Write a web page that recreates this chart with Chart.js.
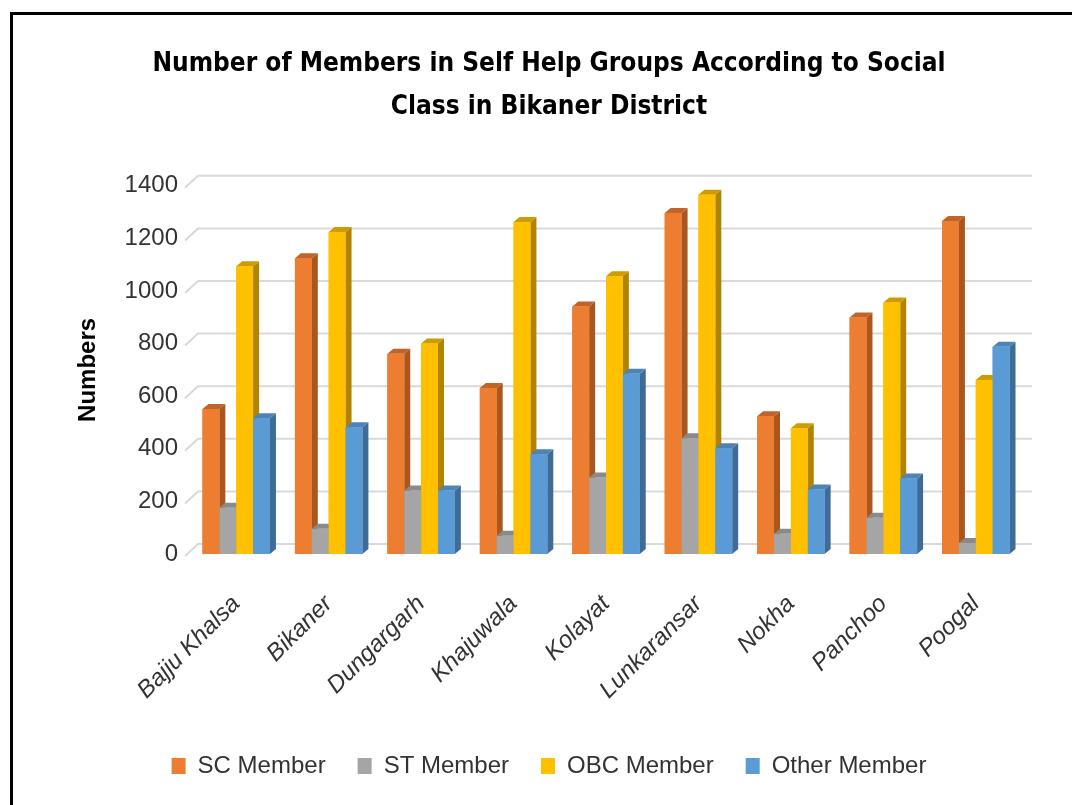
<!DOCTYPE html>
<html>
<head>
<meta charset="utf-8">
<title>SHG members by social class - Bikaner</title>
<script src="https://cdn.jsdelivr.net/npm/chart.js@4.4.0/dist/chart.umd.min.js"></script>
<style>
  html, body { margin: 0; padding: 0; background: #fff; }
  #wrap { position: relative; width: 1072px; height: 805px; }
</style>
</head>
<body>
<div id="wrap"><canvas id="shg-chart"></canvas></div>
<script>
const blocks = ['Bajju Khalsa', 'Bikaner', 'Dungargarh', 'Khajuwala', 'Kolayat', 'Lunkaransar', 'Nokha', 'Panchoo', 'Poogal'];
const scMembers = [551, 1125, 761, 631, 941, 1297, 524, 899, 1266];
const stMembers = [176, 96, 241, 69, 291, 440, 77, 138, 42];
const obcMembers = [1094, 1224, 800, 1262, 1056, 1366, 478, 956, 662];
const otherMembers = [516, 482, 241, 379, 685, 402, 245, 287, 788];
const yTicks = [0, 200, 400, 600, 800, 1000, 1200, 1400];

// front / side / top shades for the pseudo-3D columns
const shades = [
  { front: '#ED7D31', side: '#A9561F', top: '#C2632A' },
  { front: '#A5A5A5', side: '#767676', top: '#8A8A8A' },
  { front: '#FFC000', side: '#B08400', top: '#CC9C00' },
  { front: '#5B9BD5', side: '#3F6C96', top: '#4D83B5' },
];
const DX = 6, DY = 5;

const bar3d = {
  id: 'bar3d',
  beforeDraw(chart) {
    const ctx = chart.ctx;
    ctx.save();
    ctx.strokeStyle = '#000';
    ctx.lineWidth = 3;
    ctx.strokeRect(11.5, 13.5, 2000, 2000);
    ctx.restore();
  },
  beforeDatasetsDraw(chart) {
    const { ctx, chartArea, scales } = chart;
    const y = scales.y;
    ctx.save();
    ctx.strokeStyle = '#D9D9D9';
    ctx.lineWidth = 2;
    y.ticks.forEach(t => {
      const py = y.getPixelForValue(t.value);
      ctx.beginPath();
      ctx.moveTo(chartArea.left - 5, py + 2);
      ctx.lineTo(chartArea.left + 8, py - 10);
      ctx.lineTo(chartArea.right + 10, py - 10);
      ctx.stroke();
    });
    ctx.restore();
  },
  afterDatasetsDraw(chart) {
    const ctx = chart.ctx;
    const metas = chart.data.datasets.map((d, i) => chart.getDatasetMeta(i));
    ctx.save();
    // redraw per category, left to right, so each column hides the side of the one before it
    for (let j = 0; j < blocks.length; j++) {
      metas.forEach((meta, i) => {
        const bar = meta.data[j];
        if (!bar) return;
        const { x, y, base, width } = bar.getProps(['x', 'y', 'base', 'width'], true);
        const l = x - width / 2, r = x + width / 2;
        const s = shades[i];
        ctx.fillStyle = s.side;
        ctx.beginPath();
        ctx.moveTo(r, y);
        ctx.lineTo(r + DX, y - DY);
        ctx.lineTo(r + DX, base - DY);
        ctx.lineTo(r, base);
        ctx.closePath();
        ctx.fill();
        ctx.fillStyle = s.top;
        ctx.beginPath();
        ctx.moveTo(l, y);
        ctx.lineTo(l + DX, y - DY);
        ctx.lineTo(r + DX, y - DY);
        ctx.lineTo(r, y);
        ctx.closePath();
        ctx.fill();
        ctx.fillStyle = s.front;
        ctx.fillRect(l, y, width, base - y);
      });
    }
    ctx.restore();
  },
};

const labelFont = "'Liberation Sans', Arial, sans-serif";

const shgChart = new Chart('shg-chart', {
  type: 'bar',
  data: {
    labels: blocks,
    datasets: [
      { label: 'SC Member', data: scMembers, backgroundColor: shades[0].front },
      { label: 'ST Member', data: stMembers, backgroundColor: shades[1].front },
      { label: 'OBC Member', data: obcMembers, backgroundColor: shades[2].front },
      { label: 'Other Member', data: otherMembers, backgroundColor: shades[3].front },
    ],
  },
  options: {
    responsive: true,
    maintainAspectRatio: false,
    animation: false,
    layout: { padding: { left: 76, right: 50, top: 0, bottom: 17 } },
    datasets: {
      bar: { categoryPercentage: 0.73, barPercentage: 1, borderWidth: 0 },
    },
    scales: {
      x: {
        grid: { display: false },
        border: { display: false },
        ticks: {
          minRotation: 45,
          maxRotation: 45,
          padding: 28,
          color: '#333',
          font: { family: labelFont, size: 24, style: 'italic' },
        },
        afterFit(scale) { scale.height = 168; },
      },
      y: {
        min: yTicks[0],
        max: yTicks[yTicks.length - 1],
        grid: { display: false, drawTicks: false },
        border: { display: false },
        ticks: {
          stepSize: yTicks[1] - yTicks[0],
          padding: 12,
          color: '#333',
          font: { family: labelFont, size: 24 },
          callback: v => String(v),
        },
        title: {
          display: true,
          text: 'Numbers',
          color: '#000',
          padding: 0,
          font: { family: labelFont, size: 24, weight: 'bold', lineHeight: 1 },
        },
        afterFit(scale) { scale.width = 114; },
      },
    },
    plugins: {
      title: {
        display: true,
        text: ['Number of Members in Self Help Groups According to Social', 'Class in Bikaner District'],
        color: '#000',
        font: { family: "'DejaVu Sans Condensed', 'Liberation Sans Narrow', sans-serif", size: 26, weight: 'bold', lineHeight: 1.65 },
        padding: { top: 43, bottom: 57 },
      },
      legend: {
        position: 'bottom',
        labels: {
          boxWidth: 14,
          boxHeight: 16,
          padding: 32,
          color: '#333',
          font: { family: labelFont, size: 24 },
        },
      },
      tooltip: { enabled: false },
    },
  },
  plugins: [bar3d],
});
</script>
</body>
</html>
